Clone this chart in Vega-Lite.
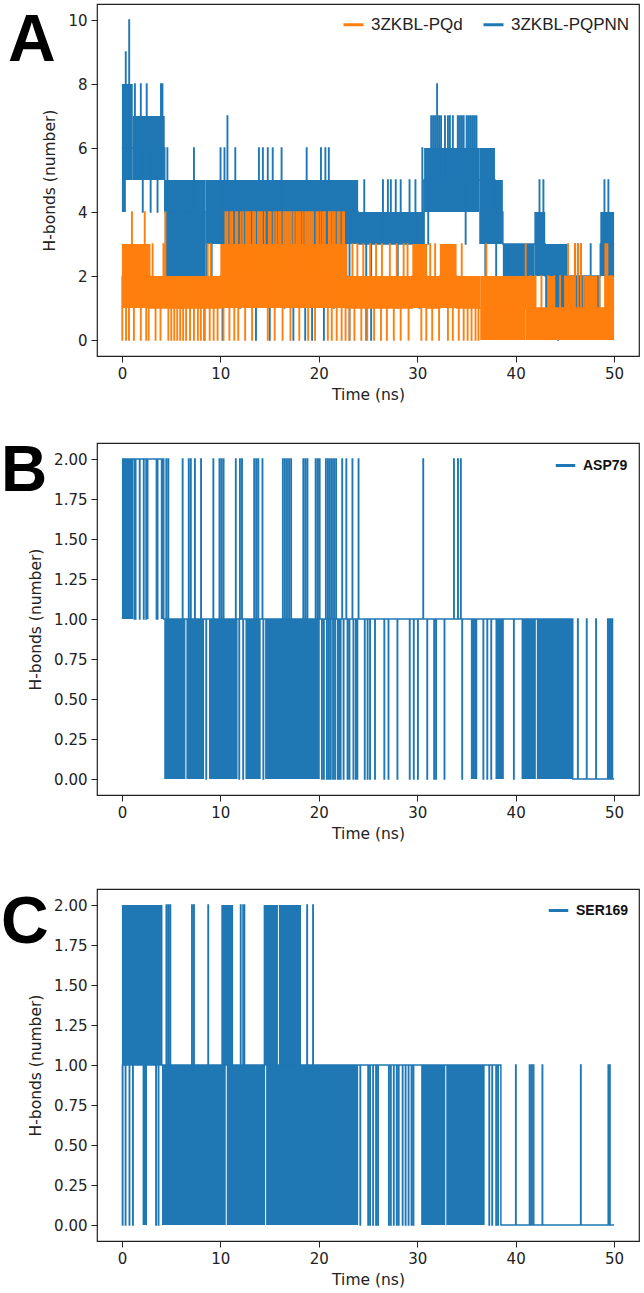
{
"$schema": "https://vega.github.io/schema/vega-lite/v6.json",
"padding": {"left": 0, "top": 3, "right": 0, "bottom": 0},
"background": "white",
"config": {
 "view": {"stroke": "#222", "strokeWidth": 1.2},
 "axis": {"grid": false, "domain": false, "tickColor": "#222", "tickWidth": 1, "tickSize": 6, "labelFont": "DejaVu Sans", "labelFontSize": 15, "labelColor": "#222", "labelPadding": 4, "titleFont": "DejaVu Sans", "titleFontSize": 15.5, "titleFontWeight": "normal", "titleColor": "#222", "titlePadding": 6},
 "axisY": {"titlePadding": 10},
 "legend": {"symbolType": "stroke"}
},
"datasets": {
 "aBlkB": [{"t":0,"t1":0.4,"v":4,"v2":5},{"t":0,"t1":1.1,"v":5,"v2":8},{"t":1.1,"t1":4.35,"v":5,"v2":7},{"t":4.35,"t1":8.5,"v":2,"v2":5},{"t":8.5,"t1":24,"v":3,"v2":5},{"t":24,"t1":30.7,"v":3,"v2":4},{"t":30.7,"t1":36.3,"v":4,"v2":6},{"t":36.3,"t1":37.9,"v":3,"v2":6},{"t":37.9,"t1":38.7,"v":3,"v2":5},{"t":38.7,"t1":41.9,"v":2,"v2":3},{"t":41.9,"t1":43,"v":2,"v2":4},{"t":43,"t1":45.3,"v":1,"v2":3},{"t":45.3,"t1":48.6,"v":1,"v2":2},{"t":48.6,"t1":50,"v":2,"v2":4}],
 "aLineB": [
{"s":"3ZKBL-PQPNN","t":0,"v":6},{"s":"3ZKBL-PQPNN","t":0.37,"v":9},{"s":"3ZKBL-PQPNN","t":0.41,"v":6},{"s":"3ZKBL-PQPNN","t":0.72,"v":10},{"s":"3ZKBL-PQPNN","t":0.76,"v":6},{"s":"3ZKBL-PQPNN","t":1.3,"v":8},{"s":"3ZKBL-PQPNN","t":1.34,"v":6},{"s":"3ZKBL-PQPNN","t":1.9,"v":8},{"s":"3ZKBL-PQPNN","t":1.94,"v":6},{"s":"3ZKBL-PQPNN","t":2.1,"v":4},{"s":"3ZKBL-PQPNN","t":2.14,"v":6},{"s":"3ZKBL-PQPNN","t":2.5,"v":8},{"s":"3ZKBL-PQPNN","t":2.54,"v":6},{"s":"3ZKBL-PQPNN","t":2.9,"v":4},{"s":"3ZKBL-PQPNN","t":2.94,"v":6},{"s":"3ZKBL-PQPNN","t":3.6,"v":4},{"s":"3ZKBL-PQPNN","t":3.64,"v":6},{"s":"3ZKBL-PQPNN","t":3.95,"v":8},{"s":"3ZKBL-PQPNN","t":3.99,"v":6},{"s":"3ZKBL-PQPNN","t":4.1,"v":8},{"s":"3ZKBL-PQPNN","t":4.14,"v":6},
{"s":"3ZKBL-PQPNN","t":4.35,"v":4},{"s":"3ZKBL-PQPNN","t":4.6,"v":6},{"s":"3ZKBL-PQPNN","t":4.64,"v":4},{"s":"3ZKBL-PQPNN","t":6.0,"v":1},{"s":"3ZKBL-PQPNN","t":6.04,"v":4},{"s":"3ZKBL-PQPNN","t":7.3,"v":6},{"s":"3ZKBL-PQPNN","t":7.34,"v":4},{"s":"3ZKBL-PQPNN","t":8.35,"v":0},{"s":"3ZKBL-PQPNN","t":8.39,"v":4},{"s":"3ZKBL-PQPNN","t":8.6,"v":2},{"s":"3ZKBL-PQPNN","t":8.64,"v":4},{"s":"3ZKBL-PQPNN","t":9.1,"v":2},{"s":"3ZKBL-PQPNN","t":9.14,"v":4},{"s":"3ZKBL-PQPNN","t":10.0,"v":6},{"s":"3ZKBL-PQPNN","t":10.04,"v":4},{"s":"3ZKBL-PQPNN","t":10.2,"v":0},{"s":"3ZKBL-PQPNN","t":10.24,"v":4},{"s":"3ZKBL-PQPNN","t":10.4,"v":6},{"s":"3ZKBL-PQPNN","t":10.44,"v":4},{"s":"3ZKBL-PQPNN","t":10.7,"v":7},{"s":"3ZKBL-PQPNN","t":10.74,"v":4},{"s":"3ZKBL-PQPNN","t":11.5,"v":6},{"s":"3ZKBL-PQPNN","t":11.54,"v":4},{"s":"3ZKBL-PQPNN","t":12.0,"v":1},{"s":"3ZKBL-PQPNN","t":12.04,"v":4},{"s":"3ZKBL-PQPNN","t":13.6,"v":0},{"s":"3ZKBL-PQPNN","t":13.64,"v":4},{"s":"3ZKBL-PQPNN","t":13.9,"v":6},{"s":"3ZKBL-PQPNN","t":13.94,"v":4},{"s":"3ZKBL-PQPNN","t":14.3,"v":6},{"s":"3ZKBL-PQPNN","t":14.34,"v":4},{"s":"3ZKBL-PQPNN","t":14.8,"v":6},{"s":"3ZKBL-PQPNN","t":14.84,"v":4},{"s":"3ZKBL-PQPNN","t":15.0,"v":0},{"s":"3ZKBL-PQPNN","t":15.04,"v":4},{"s":"3ZKBL-PQPNN","t":15.3,"v":6},{"s":"3ZKBL-PQPNN","t":15.34,"v":4},{"s":"3ZKBL-PQPNN","t":16.2,"v":6},{"s":"3ZKBL-PQPNN","t":16.24,"v":4},{"s":"3ZKBL-PQPNN","t":16.5,"v":1},{"s":"3ZKBL-PQPNN","t":16.54,"v":4},{"s":"3ZKBL-PQPNN","t":17.4,"v":0},{"s":"3ZKBL-PQPNN","t":17.44,"v":4},{"s":"3ZKBL-PQPNN","t":18.6,"v":0},{"s":"3ZKBL-PQPNN","t":18.64,"v":4},{"s":"3ZKBL-PQPNN","t":18.75,"v":6},{"s":"3ZKBL-PQPNN","t":18.79,"v":4},{"s":"3ZKBL-PQPNN","t":19.3,"v":0},{"s":"3ZKBL-PQPNN","t":19.34,"v":4},{"s":"3ZKBL-PQPNN","t":20.2,"v":6},{"s":"3ZKBL-PQPNN","t":20.24,"v":4},{"s":"3ZKBL-PQPNN","t":20.5,"v":0},{"s":"3ZKBL-PQPNN","t":20.54,"v":4},{"s":"3ZKBL-PQPNN","t":20.65,"v":6},{"s":"3ZKBL-PQPNN","t":20.69,"v":4},{"s":"3ZKBL-PQPNN","t":21.0,"v":6},{"s":"3ZKBL-PQPNN","t":21.04,"v":4},{"s":"3ZKBL-PQPNN","t":21.5,"v":1},{"s":"3ZKBL-PQPNN","t":21.54,"v":4},{"s":"3ZKBL-PQPNN","t":23.1,"v":0},{"s":"3ZKBL-PQPNN","t":23.14,"v":4},
{"s":"3ZKBL-PQPNN","t":24.0,"v":3},{"s":"3ZKBL-PQPNN","t":24.6,"v":5},{"s":"3ZKBL-PQPNN","t":24.64,"v":3},{"s":"3ZKBL-PQPNN","t":24.8,"v":0},{"s":"3ZKBL-PQPNN","t":24.84,"v":3},{"s":"3ZKBL-PQPNN","t":25.3,"v":0},{"s":"3ZKBL-PQPNN","t":25.34,"v":3},{"s":"3ZKBL-PQPNN","t":26.5,"v":5},{"s":"3ZKBL-PQPNN","t":26.54,"v":3},{"s":"3ZKBL-PQPNN","t":27.0,"v":5},{"s":"3ZKBL-PQPNN","t":27.04,"v":3},{"s":"3ZKBL-PQPNN","t":27.3,"v":5},{"s":"3ZKBL-PQPNN","t":27.34,"v":3},{"s":"3ZKBL-PQPNN","t":27.8,"v":5},{"s":"3ZKBL-PQPNN","t":27.84,"v":3},{"s":"3ZKBL-PQPNN","t":28.0,"v":1},{"s":"3ZKBL-PQPNN","t":28.04,"v":3},{"s":"3ZKBL-PQPNN","t":28.3,"v":5},{"s":"3ZKBL-PQPNN","t":28.34,"v":3},{"s":"3ZKBL-PQPNN","t":29.2,"v":5},{"s":"3ZKBL-PQPNN","t":29.24,"v":3},{"s":"3ZKBL-PQPNN","t":29.8,"v":5},{"s":"3ZKBL-PQPNN","t":29.84,"v":3},{"s":"3ZKBL-PQPNN","t":30.2,"v":1},{"s":"3ZKBL-PQPNN","t":30.24,"v":3},{"s":"3ZKBL-PQPNN","t":30.5,"v":6},{"s":"3ZKBL-PQPNN","t":30.54,"v":3},
{"s":"3ZKBL-PQPNN","t":30.7,"v":5},{"s":"3ZKBL-PQPNN","t":31.1,"v":3},{"s":"3ZKBL-PQPNN","t":31.14,"v":5},{"s":"3ZKBL-PQPNN","t":31.4,"v":7},{"s":"3ZKBL-PQPNN","t":31.44,"v":5},{"s":"3ZKBL-PQPNN","t":31.6,"v":7},{"s":"3ZKBL-PQPNN","t":31.64,"v":5},{"s":"3ZKBL-PQPNN","t":31.8,"v":7},{"s":"3ZKBL-PQPNN","t":31.84,"v":5},{"s":"3ZKBL-PQPNN","t":32.0,"v":8},{"s":"3ZKBL-PQPNN","t":32.04,"v":5},{"s":"3ZKBL-PQPNN","t":32.2,"v":7},{"s":"3ZKBL-PQPNN","t":32.24,"v":5},{"s":"3ZKBL-PQPNN","t":32.4,"v":7},{"s":"3ZKBL-PQPNN","t":32.44,"v":5},{"s":"3ZKBL-PQPNN","t":32.8,"v":7},{"s":"3ZKBL-PQPNN","t":32.84,"v":5},{"s":"3ZKBL-PQPNN","t":33.1,"v":7},{"s":"3ZKBL-PQPNN","t":33.14,"v":5},{"s":"3ZKBL-PQPNN","t":33.3,"v":7},{"s":"3ZKBL-PQPNN","t":33.34,"v":5},{"s":"3ZKBL-PQPNN","t":33.6,"v":7},{"s":"3ZKBL-PQPNN","t":33.64,"v":5},{"s":"3ZKBL-PQPNN","t":34.1,"v":7},{"s":"3ZKBL-PQPNN","t":34.14,"v":5},{"s":"3ZKBL-PQPNN","t":34.3,"v":7},{"s":"3ZKBL-PQPNN","t":34.34,"v":5},{"s":"3ZKBL-PQPNN","t":34.5,"v":7},{"s":"3ZKBL-PQPNN","t":34.54,"v":5},{"s":"3ZKBL-PQPNN","t":34.7,"v":7},{"s":"3ZKBL-PQPNN","t":34.74,"v":5},{"s":"3ZKBL-PQPNN","t":34.9,"v":3},{"s":"3ZKBL-PQPNN","t":34.94,"v":5},{"s":"3ZKBL-PQPNN","t":35.0,"v":7},{"s":"3ZKBL-PQPNN","t":35.04,"v":5},{"s":"3ZKBL-PQPNN","t":35.2,"v":7},{"s":"3ZKBL-PQPNN","t":35.24,"v":5},{"s":"3ZKBL-PQPNN","t":35.4,"v":7},{"s":"3ZKBL-PQPNN","t":35.44,"v":5},{"s":"3ZKBL-PQPNN","t":35.6,"v":7},{"s":"3ZKBL-PQPNN","t":35.64,"v":5},{"s":"3ZKBL-PQPNN","t":35.8,"v":7},{"s":"3ZKBL-PQPNN","t":35.84,"v":5},{"s":"3ZKBL-PQPNN","t":36.0,"v":7},{"s":"3ZKBL-PQPNN","t":36.04,"v":5},{"s":"3ZKBL-PQPNN","t":36.9,"v":1},{"s":"3ZKBL-PQPNN","t":36.94,"v":5},
{"s":"3ZKBL-PQPNN","t":37.9,"v":4},{"s":"3ZKBL-PQPNN","t":38.0,"v":1},{"s":"3ZKBL-PQPNN","t":38.04,"v":4},{"s":"3ZKBL-PQPNN","t":38.7,"v":3},{"s":"3ZKBL-PQPNN","t":39.2,"v":1},{"s":"3ZKBL-PQPNN","t":39.24,"v":3},{"s":"3ZKBL-PQPNN","t":40.4,"v":1},{"s":"3ZKBL-PQPNN","t":40.44,"v":3},{"s":"3ZKBL-PQPNN","t":41.0,"v":1},{"s":"3ZKBL-PQPNN","t":41.04,"v":3},{"s":"3ZKBL-PQPNN","t":42.4,"v":5},{"s":"3ZKBL-PQPNN","t":42.44,"v":3},{"s":"3ZKBL-PQPNN","t":42.8,"v":5},{"s":"3ZKBL-PQPNN","t":42.84,"v":3},{"s":"3ZKBL-PQPNN","t":43.0,"v":2},{"s":"3ZKBL-PQPNN","t":44.3,"v":0},{"s":"3ZKBL-PQPNN","t":44.34,"v":2},{"s":"3ZKBL-PQPNN","t":46.0,"v":3},{"s":"3ZKBL-PQPNN","t":46.04,"v":2},{"s":"3ZKBL-PQPNN","t":46.3,"v":3},{"s":"3ZKBL-PQPNN","t":46.34,"v":2},{"s":"3ZKBL-PQPNN","t":46.6,"v":3},{"s":"3ZKBL-PQPNN","t":46.64,"v":2},{"s":"3ZKBL-PQPNN","t":47.6,"v":3},{"s":"3ZKBL-PQPNN","t":47.64,"v":2},{"s":"3ZKBL-PQPNN","t":48.6,"v":3},{"s":"3ZKBL-PQPNN","t":49.0,"v":5},{"s":"3ZKBL-PQPNN","t":49.04,"v":3},{"s":"3ZKBL-PQPNN","t":49.4,"v":5},{"s":"3ZKBL-PQPNN","t":49.44,"v":3},{"s":"3ZKBL-PQPNN","t":50.0,"v":3}],
 "aBlkO": [{"t":0,"t1":2.9,"v":1,"v2":3},{"t":2.9,"t1":10,"v":1,"v2":2},{"t":10,"t1":22.9,"v":1,"v2":3},{"t":22.9,"t1":29.5,"v":1,"v2":2},{"t":29.5,"t1":31,"v":1,"v2":3},{"t":31,"t1":32.3,"v":1,"v2":2},{"t":32.3,"t1":34,"v":1,"v2":3},{"t":34,"t1":36.4,"v":1,"v2":2},{"t":36.4,"t1":41,"v":0,"v2":2},{"t":41,"t1":50,"v":0,"v2":1},{"t":41,"t1":42,"v":1,"v2":2},{"t":43.2,"t1":44,"v":1,"v2":2},{"t":45,"t1":46,"v":1,"v2":2},{"t":47,"t1":48.3,"v":1,"v2":2},{"t":49,"t1":50,"v":1,"v2":2}],
 "aLineO": [
{"s":"3ZKBL-PQd","t":0,"v":2},{"s":"3ZKBL-PQd","t":0.02,"v":0},{"s":"3ZKBL-PQd","t":0.06,"v":2},{"s":"3ZKBL-PQd","t":0.4,"v":0},{"s":"3ZKBL-PQd","t":0.44,"v":2},{"s":"3ZKBL-PQd","t":0.7,"v":0},{"s":"3ZKBL-PQd","t":0.74,"v":2},{"s":"3ZKBL-PQd","t":1.0,"v":4},{"s":"3ZKBL-PQd","t":1.04,"v":2},{"s":"3ZKBL-PQd","t":1.2,"v":0},{"s":"3ZKBL-PQd","t":1.24,"v":2},{"s":"3ZKBL-PQd","t":1.9,"v":0},{"s":"3ZKBL-PQd","t":1.94,"v":2},{"s":"3ZKBL-PQd","t":2.3,"v":4},{"s":"3ZKBL-PQd","t":2.34,"v":2},{"s":"3ZKBL-PQd","t":2.45,"v":0},{"s":"3ZKBL-PQd","t":2.49,"v":2},{"s":"3ZKBL-PQd","t":2.7,"v":0},{"s":"3ZKBL-PQd","t":2.74,"v":2},
{"s":"3ZKBL-PQd","t":2.9,"v":1},{"s":"3ZKBL-PQd","t":3.1,"v":3},{"s":"3ZKBL-PQd","t":3.14,"v":1},{"s":"3ZKBL-PQd","t":3.4,"v":0},{"s":"3ZKBL-PQd","t":3.44,"v":1},{"s":"3ZKBL-PQd","t":3.9,"v":0},{"s":"3ZKBL-PQd","t":3.94,"v":1},{"s":"3ZKBL-PQd","t":4.2,"v":3},{"s":"3ZKBL-PQd","t":4.24,"v":1},{"s":"3ZKBL-PQd","t":4.4,"v":4},{"s":"3ZKBL-PQd","t":4.44,"v":1},{"s":"3ZKBL-PQd","t":4.7,"v":0},{"s":"3ZKBL-PQd","t":4.74,"v":1},{"s":"3ZKBL-PQd","t":5.0,"v":0},{"s":"3ZKBL-PQd","t":5.04,"v":1},{"s":"3ZKBL-PQd","t":5.3,"v":0},{"s":"3ZKBL-PQd","t":5.34,"v":1},{"s":"3ZKBL-PQd","t":5.6,"v":0},{"s":"3ZKBL-PQd","t":5.64,"v":1},{"s":"3ZKBL-PQd","t":5.9,"v":0},{"s":"3ZKBL-PQd","t":5.94,"v":1},{"s":"3ZKBL-PQd","t":6.2,"v":0},{"s":"3ZKBL-PQd","t":6.24,"v":1},{"s":"3ZKBL-PQd","t":6.5,"v":0},{"s":"3ZKBL-PQd","t":6.54,"v":1},{"s":"3ZKBL-PQd","t":6.9,"v":0},{"s":"3ZKBL-PQd","t":6.94,"v":1},{"s":"3ZKBL-PQd","t":7.3,"v":0},{"s":"3ZKBL-PQd","t":7.34,"v":1},{"s":"3ZKBL-PQd","t":7.7,"v":0},{"s":"3ZKBL-PQd","t":7.74,"v":1},{"s":"3ZKBL-PQd","t":8.0,"v":0},{"s":"3ZKBL-PQd","t":8.04,"v":1},{"s":"3ZKBL-PQd","t":8.4,"v":0},{"s":"3ZKBL-PQd","t":8.44,"v":1},{"s":"3ZKBL-PQd","t":8.7,"v":3},{"s":"3ZKBL-PQd","t":8.74,"v":1},{"s":"3ZKBL-PQd","t":8.9,"v":0},{"s":"3ZKBL-PQd","t":8.94,"v":1},{"s":"3ZKBL-PQd","t":9.0,"v":3},{"s":"3ZKBL-PQd","t":9.04,"v":1},{"s":"3ZKBL-PQd","t":9.3,"v":0},{"s":"3ZKBL-PQd","t":9.34,"v":1},{"s":"3ZKBL-PQd","t":9.7,"v":0},{"s":"3ZKBL-PQd","t":9.74,"v":1},
{"s":"3ZKBL-PQd","t":10.0,"v":2},{"s":"3ZKBL-PQd","t":10.3,"v":0},{"s":"3ZKBL-PQd","t":10.34,"v":2},{"s":"3ZKBL-PQd","t":10.5,"v":4},{"s":"3ZKBL-PQd","t":10.54,"v":2},{"s":"3ZKBL-PQd","t":10.9,"v":0},{"s":"3ZKBL-PQd","t":10.94,"v":2},{"s":"3ZKBL-PQd","t":11.0,"v":4},{"s":"3ZKBL-PQd","t":11.04,"v":2},{"s":"3ZKBL-PQd","t":11.4,"v":0},{"s":"3ZKBL-PQd","t":11.44,"v":2},{"s":"3ZKBL-PQd","t":11.7,"v":4},{"s":"3ZKBL-PQd","t":11.74,"v":2},{"s":"3ZKBL-PQd","t":11.8,"v":0},{"s":"3ZKBL-PQd","t":11.84,"v":2},{"s":"3ZKBL-PQd","t":12.3,"v":4},{"s":"3ZKBL-PQd","t":12.34,"v":2},{"s":"3ZKBL-PQd","t":12.5,"v":0},{"s":"3ZKBL-PQd","t":12.54,"v":2},{"s":"3ZKBL-PQd","t":12.8,"v":4},{"s":"3ZKBL-PQd","t":12.84,"v":2},{"s":"3ZKBL-PQd","t":13.2,"v":0},{"s":"3ZKBL-PQd","t":13.24,"v":2},{"s":"3ZKBL-PQd","t":13.3,"v":4},{"s":"3ZKBL-PQd","t":13.34,"v":2},{"s":"3ZKBL-PQd","t":13.8,"v":4},{"s":"3ZKBL-PQd","t":13.84,"v":2},{"s":"3ZKBL-PQd","t":14.2,"v":4},{"s":"3ZKBL-PQd","t":14.24,"v":2},{"s":"3ZKBL-PQd","t":14.8,"v":0},{"s":"3ZKBL-PQd","t":14.84,"v":2},{"s":"3ZKBL-PQd","t":14.9,"v":4},{"s":"3ZKBL-PQd","t":14.94,"v":2},{"s":"3ZKBL-PQd","t":15.4,"v":4},{"s":"3ZKBL-PQd","t":15.44,"v":2},{"s":"3ZKBL-PQd","t":15.5,"v":0},{"s":"3ZKBL-PQd","t":15.54,"v":2},{"s":"3ZKBL-PQd","t":15.9,"v":4},{"s":"3ZKBL-PQd","t":15.94,"v":2},{"s":"3ZKBL-PQd","t":16.3,"v":0},{"s":"3ZKBL-PQd","t":16.34,"v":2},{"s":"3ZKBL-PQd","t":16.4,"v":4},{"s":"3ZKBL-PQd","t":16.44,"v":2},{"s":"3ZKBL-PQd","t":16.8,"v":4},{"s":"3ZKBL-PQd","t":16.84,"v":2},{"s":"3ZKBL-PQd","t":17.1,"v":0},{"s":"3ZKBL-PQd","t":17.14,"v":2},{"s":"3ZKBL-PQd","t":17.2,"v":4},{"s":"3ZKBL-PQd","t":17.24,"v":2},{"s":"3ZKBL-PQd","t":17.7,"v":4},{"s":"3ZKBL-PQd","t":17.74,"v":2},{"s":"3ZKBL-PQd","t":18.0,"v":0},{"s":"3ZKBL-PQd","t":18.04,"v":2},{"s":"3ZKBL-PQd","t":18.1,"v":4},{"s":"3ZKBL-PQd","t":18.14,"v":2},{"s":"3ZKBL-PQd","t":18.6,"v":4},{"s":"3ZKBL-PQd","t":18.64,"v":2},{"s":"3ZKBL-PQd","t":18.9,"v":0},{"s":"3ZKBL-PQd","t":18.94,"v":2},{"s":"3ZKBL-PQd","t":19.0,"v":4},{"s":"3ZKBL-PQd","t":19.04,"v":2},{"s":"3ZKBL-PQd","t":19.4,"v":4},{"s":"3ZKBL-PQd","t":19.44,"v":2},{"s":"3ZKBL-PQd","t":19.6,"v":0},{"s":"3ZKBL-PQd","t":19.64,"v":2},{"s":"3ZKBL-PQd","t":19.9,"v":4},{"s":"3ZKBL-PQd","t":19.94,"v":2},{"s":"3ZKBL-PQd","t":20.4,"v":4},{"s":"3ZKBL-PQd","t":20.44,"v":2},{"s":"3ZKBL-PQd","t":20.9,"v":0},{"s":"3ZKBL-PQd","t":20.94,"v":2},{"s":"3ZKBL-PQd","t":21.0,"v":4},{"s":"3ZKBL-PQd","t":21.04,"v":2},{"s":"3ZKBL-PQd","t":21.3,"v":0},{"s":"3ZKBL-PQd","t":21.34,"v":2},{"s":"3ZKBL-PQd","t":21.4,"v":4},{"s":"3ZKBL-PQd","t":21.44,"v":2},{"s":"3ZKBL-PQd","t":21.8,"v":0},{"s":"3ZKBL-PQd","t":21.84,"v":2},{"s":"3ZKBL-PQd","t":21.9,"v":4},{"s":"3ZKBL-PQd","t":21.94,"v":2},{"s":"3ZKBL-PQd","t":22.3,"v":0},{"s":"3ZKBL-PQd","t":22.34,"v":2},{"s":"3ZKBL-PQd","t":22.4,"v":4},{"s":"3ZKBL-PQd","t":22.44,"v":2},{"s":"3ZKBL-PQd","t":22.7,"v":0},{"s":"3ZKBL-PQd","t":22.74,"v":2},
{"s":"3ZKBL-PQd","t":10.7,"v":4},{"s":"3ZKBL-PQd","t":10.74,"v":2},{"s":"3ZKBL-PQd","t":11.2,"v":4},{"s":"3ZKBL-PQd","t":11.24,"v":2},{"s":"3ZKBL-PQd","t":11.55,"v":4},{"s":"3ZKBL-PQd","t":11.59,"v":2},{"s":"3ZKBL-PQd","t":12.05,"v":4},{"s":"3ZKBL-PQd","t":12.09,"v":2},{"s":"3ZKBL-PQd","t":12.6,"v":4},{"s":"3ZKBL-PQd","t":12.64,"v":2},{"s":"3ZKBL-PQd","t":13.0,"v":4},{"s":"3ZKBL-PQd","t":13.04,"v":2},{"s":"3ZKBL-PQd","t":13.5,"v":4},{"s":"3ZKBL-PQd","t":13.54,"v":2},{"s":"3ZKBL-PQd","t":14.0,"v":4},{"s":"3ZKBL-PQd","t":14.04,"v":2},{"s":"3ZKBL-PQd","t":14.5,"v":4},{"s":"3ZKBL-PQd","t":14.54,"v":2},{"s":"3ZKBL-PQd","t":15.1,"v":4},{"s":"3ZKBL-PQd","t":15.14,"v":2},{"s":"3ZKBL-PQd","t":15.65,"v":4},{"s":"3ZKBL-PQd","t":15.69,"v":2},{"s":"3ZKBL-PQd","t":16.1,"v":4},{"s":"3ZKBL-PQd","t":16.14,"v":2},{"s":"3ZKBL-PQd","t":16.6,"v":4},{"s":"3ZKBL-PQd","t":16.64,"v":2},{"s":"3ZKBL-PQd","t":17.0,"v":4},{"s":"3ZKBL-PQd","t":17.04,"v":2},{"s":"3ZKBL-PQd","t":17.45,"v":4},{"s":"3ZKBL-PQd","t":17.49,"v":2},{"s":"3ZKBL-PQd","t":17.9,"v":4},{"s":"3ZKBL-PQd","t":17.94,"v":2},{"s":"3ZKBL-PQd","t":18.35,"v":4},{"s":"3ZKBL-PQd","t":18.39,"v":2},{"s":"3ZKBL-PQd","t":18.8,"v":4},{"s":"3ZKBL-PQd","t":18.84,"v":2},{"s":"3ZKBL-PQd","t":19.2,"v":4},{"s":"3ZKBL-PQd","t":19.24,"v":2},{"s":"3ZKBL-PQd","t":19.75,"v":4},{"s":"3ZKBL-PQd","t":19.79,"v":2},{"s":"3ZKBL-PQd","t":20.15,"v":4},{"s":"3ZKBL-PQd","t":20.19,"v":2},{"s":"3ZKBL-PQd","t":20.6,"v":4},{"s":"3ZKBL-PQd","t":20.64,"v":2},{"s":"3ZKBL-PQd","t":21.17,"v":4},{"s":"3ZKBL-PQd","t":21.21,"v":2},{"s":"3ZKBL-PQd","t":21.6,"v":4},{"s":"3ZKBL-PQd","t":21.64,"v":2},{"s":"3ZKBL-PQd","t":22.1,"v":4},{"s":"3ZKBL-PQd","t":22.14,"v":2},{"s":"3ZKBL-PQd","t":22.55,"v":4},{"s":"3ZKBL-PQd","t":22.59,"v":2},
{"s":"3ZKBL-PQd","t":22.9,"v":1},{"s":"3ZKBL-PQd","t":23.1,"v":0},{"s":"3ZKBL-PQd","t":23.14,"v":1},{"s":"3ZKBL-PQd","t":23.4,"v":3},{"s":"3ZKBL-PQd","t":23.44,"v":1},{"s":"3ZKBL-PQd","t":23.6,"v":0},{"s":"3ZKBL-PQd","t":23.64,"v":1},{"s":"3ZKBL-PQd","t":23.9,"v":3},{"s":"3ZKBL-PQd","t":23.94,"v":1},{"s":"3ZKBL-PQd","t":24.3,"v":0},{"s":"3ZKBL-PQd","t":24.34,"v":1},{"s":"3ZKBL-PQd","t":24.5,"v":3},{"s":"3ZKBL-PQd","t":24.54,"v":1},{"s":"3ZKBL-PQd","t":24.9,"v":0},{"s":"3ZKBL-PQd","t":24.94,"v":1},{"s":"3ZKBL-PQd","t":25.2,"v":3},{"s":"3ZKBL-PQd","t":25.24,"v":1},{"s":"3ZKBL-PQd","t":25.6,"v":0},{"s":"3ZKBL-PQd","t":25.64,"v":1},{"s":"3ZKBL-PQd","t":25.8,"v":3},{"s":"3ZKBL-PQd","t":25.84,"v":1},{"s":"3ZKBL-PQd","t":26.3,"v":0},{"s":"3ZKBL-PQd","t":26.34,"v":1},{"s":"3ZKBL-PQd","t":26.4,"v":3},{"s":"3ZKBL-PQd","t":26.44,"v":1},{"s":"3ZKBL-PQd","t":26.9,"v":0},{"s":"3ZKBL-PQd","t":26.94,"v":1},{"s":"3ZKBL-PQd","t":27.2,"v":3},{"s":"3ZKBL-PQd","t":27.24,"v":1},{"s":"3ZKBL-PQd","t":27.6,"v":0},{"s":"3ZKBL-PQd","t":27.64,"v":1},{"s":"3ZKBL-PQd","t":27.9,"v":3},{"s":"3ZKBL-PQd","t":27.94,"v":1},{"s":"3ZKBL-PQd","t":28.3,"v":0},{"s":"3ZKBL-PQd","t":28.34,"v":1},{"s":"3ZKBL-PQd","t":28.6,"v":3},{"s":"3ZKBL-PQd","t":28.64,"v":1},{"s":"3ZKBL-PQd","t":29.0,"v":3},{"s":"3ZKBL-PQd","t":29.04,"v":1},{"s":"3ZKBL-PQd","t":29.1,"v":0},{"s":"3ZKBL-PQd","t":29.14,"v":1},
{"s":"3ZKBL-PQd","t":29.5,"v":2},{"s":"3ZKBL-PQd","t":30.4,"v":0},{"s":"3ZKBL-PQd","t":30.44,"v":2},{"s":"3ZKBL-PQd","t":30.9,"v":0},{"s":"3ZKBL-PQd","t":30.94,"v":2},{"s":"3ZKBL-PQd","t":31.0,"v":1},{"s":"3ZKBL-PQd","t":31.3,"v":3},{"s":"3ZKBL-PQd","t":31.34,"v":1},{"s":"3ZKBL-PQd","t":31.5,"v":0},{"s":"3ZKBL-PQd","t":31.54,"v":1},{"s":"3ZKBL-PQd","t":31.8,"v":3},{"s":"3ZKBL-PQd","t":31.84,"v":1},{"s":"3ZKBL-PQd","t":32.2,"v":0},{"s":"3ZKBL-PQd","t":32.24,"v":1},{"s":"3ZKBL-PQd","t":32.3,"v":2},{"s":"3ZKBL-PQd","t":33.1,"v":0},{"s":"3ZKBL-PQd","t":33.14,"v":2},{"s":"3ZKBL-PQd","t":33.6,"v":0},{"s":"3ZKBL-PQd","t":33.64,"v":2},
{"s":"3ZKBL-PQd","t":34.0,"v":1},{"s":"3ZKBL-PQd","t":34.2,"v":0},{"s":"3ZKBL-PQd","t":34.24,"v":1},{"s":"3ZKBL-PQd","t":34.5,"v":3},{"s":"3ZKBL-PQd","t":34.54,"v":1},{"s":"3ZKBL-PQd","t":34.7,"v":0},{"s":"3ZKBL-PQd","t":34.74,"v":1},{"s":"3ZKBL-PQd","t":35.1,"v":0},{"s":"3ZKBL-PQd","t":35.14,"v":1},{"s":"3ZKBL-PQd","t":35.5,"v":0},{"s":"3ZKBL-PQd","t":35.54,"v":1},{"s":"3ZKBL-PQd","t":35.9,"v":0},{"s":"3ZKBL-PQd","t":35.94,"v":1},{"s":"3ZKBL-PQd","t":36.2,"v":0},{"s":"3ZKBL-PQd","t":36.24,"v":1},{"s":"3ZKBL-PQd","t":37.0,"v":3},{"s":"3ZKBL-PQd","t":37.04,"v":1},
{"s":"3ZKBL-PQd","t":41.0,"v":3},{"s":"3ZKBL-PQd","t":41.04,"v":1},{"s":"3ZKBL-PQd","t":41.5,"v":2},{"s":"3ZKBL-PQd","t":41.54,"v":1},{"s":"3ZKBL-PQd","t":42.0,"v":2},{"s":"3ZKBL-PQd","t":42.04,"v":1},{"s":"3ZKBL-PQd","t":42.6,"v":2},{"s":"3ZKBL-PQd","t":42.64,"v":1},{"s":"3ZKBL-PQd","t":43.3,"v":2},{"s":"3ZKBL-PQd","t":43.34,"v":1},{"s":"3ZKBL-PQd","t":43.9,"v":2},{"s":"3ZKBL-PQd","t":43.94,"v":1},{"s":"3ZKBL-PQd","t":44.5,"v":2},{"s":"3ZKBL-PQd","t":44.54,"v":1},{"s":"3ZKBL-PQd","t":45.0,"v":2},{"s":"3ZKBL-PQd","t":45.04,"v":1},{"s":"3ZKBL-PQd","t":45.3,"v":3},{"s":"3ZKBL-PQd","t":45.34,"v":1},{"s":"3ZKBL-PQd","t":45.7,"v":2},{"s":"3ZKBL-PQd","t":45.74,"v":1},{"s":"3ZKBL-PQd","t":46.0,"v":3},{"s":"3ZKBL-PQd","t":46.04,"v":1},{"s":"3ZKBL-PQd","t":46.3,"v":3},{"s":"3ZKBL-PQd","t":46.34,"v":1},{"s":"3ZKBL-PQd","t":46.6,"v":3},{"s":"3ZKBL-PQd","t":46.64,"v":1},{"s":"3ZKBL-PQd","t":46.9,"v":2},{"s":"3ZKBL-PQd","t":46.94,"v":1},{"s":"3ZKBL-PQd","t":47.6,"v":2},{"s":"3ZKBL-PQd","t":47.64,"v":1},{"s":"3ZKBL-PQd","t":48.1,"v":2},{"s":"3ZKBL-PQd","t":48.14,"v":1},{"s":"3ZKBL-PQd","t":48.5,"v":2},{"s":"3ZKBL-PQd","t":48.54,"v":1},{"s":"3ZKBL-PQd","t":49.1,"v":3},{"s":"3ZKBL-PQd","t":49.14,"v":1},{"s":"3ZKBL-PQd","t":49.3,"v":3},{"s":"3ZKBL-PQd","t":49.34,"v":1},{"s":"3ZKBL-PQd","t":49.6,"v":2},{"s":"3ZKBL-PQd","t":49.64,"v":1},{"s":"3ZKBL-PQd","t":49.8,"v":2},{"s":"3ZKBL-PQd","t":49.84,"v":1},{"s":"3ZKBL-PQd","t":50.0,"v":1}],
 "bBlk": [{"t":0,"t1":1.15,"v":1,"v2":2},{"t":2.5,"t1":2.7,"v":1,"v2":2},{"t":3.95,"t1":4.25,"v":1,"v2":2},{"t":4.3,"t1":6.45,"v":0,"v2":1},{"t":6.55,"t1":8.35,"v":0,"v2":1},{"t":8.85,"t1":11.75,"v":0,"v2":1},{"t":12.55,"t1":14.1,"v":0,"v2":1},{"t":14.55,"t1":20.1,"v":0,"v2":1},{"t":35.45,"t1":36.1,"v":0,"v2":1},{"t":37.95,"t1":38.8,"v":0,"v2":1},{"t":40.6,"t1":42.05,"v":0,"v2":1},{"t":42.15,"t1":45.8,"v":0,"v2":1}],
 "bLine": [
{"s":"ASP79","t":0,"v":2},{"s":"ASP79","t":1.25,"v":1},{"s":"ASP79","t":1.29,"v":2},{"s":"ASP79","t":1.37,"v":1},{"s":"ASP79","t":1.41,"v":2},{"s":"ASP79","t":1.79,"v":1},{"s":"ASP79","t":1.83,"v":2},{"s":"ASP79","t":2.2,"v":1},{"s":"ASP79","t":2.24,"v":2},{"s":"ASP79","t":2.45,"v":1},{"s":"ASP79","t":2.49,"v":2},{"s":"ASP79","t":3.5,"v":1},{"s":"ASP79","t":3.54,"v":2},{"s":"ASP79","t":3.6,"v":1},{"s":"ASP79","t":3.64,"v":2},
{"s":"ASP79","t":4.25,"v":1},{"s":"ASP79","t":4.49,"v":2},{"s":"ASP79","t":4.53,"v":1},{"s":"ASP79","t":4.7,"v":2},{"s":"ASP79","t":4.74,"v":1},{"s":"ASP79","t":6.15,"v":2},{"s":"ASP79","t":6.19,"v":1},{"s":"ASP79","t":6.77,"v":2},{"s":"ASP79","t":6.81,"v":1},{"s":"ASP79","t":6.98,"v":2},{"s":"ASP79","t":7.02,"v":1},{"s":"ASP79","t":7.4,"v":2},{"s":"ASP79","t":7.44,"v":1},{"s":"ASP79","t":8.02,"v":2},{"s":"ASP79","t":8.06,"v":1},{"s":"ASP79","t":8.55,"v":0},{"s":"ASP79","t":8.59,"v":1},{"s":"ASP79","t":9.27,"v":2},{"s":"ASP79","t":9.31,"v":1},{"s":"ASP79","t":9.89,"v":2},{"s":"ASP79","t":9.93,"v":1},{"s":"ASP79","t":10.1,"v":2},{"s":"ASP79","t":10.14,"v":1},{"s":"ASP79","t":10.31,"v":2},{"s":"ASP79","t":10.35,"v":1},{"s":"ASP79","t":11.55,"v":2},{"s":"ASP79","t":11.59,"v":1},{"s":"ASP79","t":11.9,"v":0},{"s":"ASP79","t":11.94,"v":1},{"s":"ASP79","t":11.97,"v":2},{"s":"ASP79","t":12.01,"v":1},{"s":"ASP79","t":12.18,"v":2},{"s":"ASP79","t":12.22,"v":1},{"s":"ASP79","t":12.3,"v":0},{"s":"ASP79","t":12.34,"v":1},{"s":"ASP79","t":13.42,"v":2},{"s":"ASP79","t":13.46,"v":1},{"s":"ASP79","t":13.63,"v":2},{"s":"ASP79","t":13.67,"v":1},{"s":"ASP79","t":13.84,"v":2},{"s":"ASP79","t":13.88,"v":1},{"s":"ASP79","t":14.26,"v":2},{"s":"ASP79","t":14.3,"v":1},{"s":"ASP79","t":14.35,"v":0},{"s":"ASP79","t":14.39,"v":1},{"s":"ASP79","t":16.33,"v":2},{"s":"ASP79","t":16.37,"v":1},{"s":"ASP79","t":16.54,"v":2},{"s":"ASP79","t":16.58,"v":1},{"s":"ASP79","t":16.75,"v":2},{"s":"ASP79","t":16.79,"v":1},{"s":"ASP79","t":16.96,"v":2},{"s":"ASP79","t":17.0,"v":1},{"s":"ASP79","t":17.17,"v":2},{"s":"ASP79","t":17.21,"v":1},{"s":"ASP79","t":18.41,"v":2},{"s":"ASP79","t":18.45,"v":1},{"s":"ASP79","t":18.62,"v":2},{"s":"ASP79","t":18.66,"v":1},{"s":"ASP79","t":18.83,"v":2},{"s":"ASP79","t":18.87,"v":1},{"s":"ASP79","t":19.66,"v":2},{"s":"ASP79","t":19.7,"v":1},{"s":"ASP79","t":19.87,"v":2},{"s":"ASP79","t":19.91,"v":1},{"s":"ASP79","t":20.07,"v":2},{"s":"ASP79","t":20.11,"v":1},{"s":"ASP79","t":20.3,"v":0},{"s":"ASP79","t":20.34,"v":1},{"s":"ASP79","t":20.5,"v":0},{"s":"ASP79","t":20.54,"v":1},{"s":"ASP79","t":20.7,"v":2},{"s":"ASP79","t":20.74,"v":1},{"s":"ASP79","t":20.8,"v":0},{"s":"ASP79","t":20.84,"v":1},{"s":"ASP79","t":20.91,"v":2},{"s":"ASP79","t":20.95,"v":1},{"s":"ASP79","t":21.0,"v":0},{"s":"ASP79","t":21.04,"v":1},{"s":"ASP79","t":21.11,"v":2},{"s":"ASP79","t":21.15,"v":1},{"s":"ASP79","t":21.2,"v":0},{"s":"ASP79","t":21.24,"v":1},{"s":"ASP79","t":21.32,"v":2},{"s":"ASP79","t":21.36,"v":1},{"s":"ASP79","t":21.43,"v":0},{"s":"ASP79","t":21.47,"v":1},{"s":"ASP79","t":21.53,"v":2},{"s":"ASP79","t":21.57,"v":1},{"s":"ASP79","t":21.63,"v":0},{"s":"ASP79","t":21.67,"v":1},{"s":"ASP79","t":21.74,"v":2},{"s":"ASP79","t":21.78,"v":1},{"s":"ASP79","t":21.9,"v":0},{"s":"ASP79","t":21.94,"v":1},{"s":"ASP79","t":22.05,"v":0},{"s":"ASP79","t":22.09,"v":1},{"s":"ASP79","t":22.2,"v":0},{"s":"ASP79","t":22.24,"v":1},{"s":"ASP79","t":22.36,"v":2},{"s":"ASP79","t":22.4,"v":1},{"s":"ASP79","t":22.5,"v":0},{"s":"ASP79","t":22.54,"v":1},{"s":"ASP79","t":22.78,"v":2},{"s":"ASP79","t":22.82,"v":1},{"s":"ASP79","t":22.9,"v":0},{"s":"ASP79","t":22.94,"v":1},{"s":"ASP79","t":23.1,"v":0},{"s":"ASP79","t":23.14,"v":1},{"s":"ASP79","t":23.4,"v":2},{"s":"ASP79","t":23.44,"v":1},{"s":"ASP79","t":23.5,"v":0},{"s":"ASP79","t":23.54,"v":1},{"s":"ASP79","t":23.75,"v":0},{"s":"ASP79","t":23.79,"v":1},{"s":"ASP79","t":23.9,"v":0},{"s":"ASP79","t":23.94,"v":1},{"s":"ASP79","t":24.02,"v":2},{"s":"ASP79","t":24.06,"v":1},{"s":"ASP79","t":24.65,"v":0},{"s":"ASP79","t":24.69,"v":1},{"s":"ASP79","t":24.94,"v":0},{"s":"ASP79","t":24.98,"v":1},{"s":"ASP79","t":25.19,"v":0},{"s":"ASP79","t":25.23,"v":1},{"s":"ASP79","t":25.69,"v":0},{"s":"ASP79","t":25.73,"v":1},{"s":"ASP79","t":26.64,"v":0},{"s":"ASP79","t":26.68,"v":1},{"s":"ASP79","t":27.06,"v":0},{"s":"ASP79","t":27.1,"v":1},{"s":"ASP79","t":27.97,"v":0},{"s":"ASP79","t":28.01,"v":1},{"s":"ASP79","t":29.22,"v":0},{"s":"ASP79","t":29.26,"v":1},{"s":"ASP79","t":29.63,"v":0},{"s":"ASP79","t":29.67,"v":1},{"s":"ASP79","t":30.05,"v":0},{"s":"ASP79","t":30.09,"v":1},{"s":"ASP79","t":30.59,"v":2},{"s":"ASP79","t":30.63,"v":1},{"s":"ASP79","t":31.0,"v":0},{"s":"ASP79","t":31.04,"v":1},{"s":"ASP79","t":31.7,"v":0},{"s":"ASP79","t":31.74,"v":1},{"s":"ASP79","t":31.9,"v":0},{"s":"ASP79","t":31.94,"v":1},{"s":"ASP79","t":32.75,"v":0},{"s":"ASP79","t":32.79,"v":1},{"s":"ASP79","t":33.71,"v":2},{"s":"ASP79","t":33.75,"v":1},{"s":"ASP79","t":34.12,"v":2},{"s":"ASP79","t":34.16,"v":1},{"s":"ASP79","t":34.41,"v":2},{"s":"ASP79","t":34.45,"v":1},{"s":"ASP79","t":34.55,"v":0},{"s":"ASP79","t":34.59,"v":1},{"s":"ASP79","t":36.7,"v":0},{"s":"ASP79","t":36.74,"v":1},{"s":"ASP79","t":37.1,"v":0},{"s":"ASP79","t":37.14,"v":1},{"s":"ASP79","t":37.5,"v":0},{"s":"ASP79","t":37.54,"v":1},{"s":"ASP79","t":39.8,"v":0},{"s":"ASP79","t":39.84,"v":1},{"s":"ASP79","t":45.8,"v":0},{"s":"ASP79","t":46.3,"v":1},{"s":"ASP79","t":46.34,"v":0},{"s":"ASP79","t":47.2,"v":1},{"s":"ASP79","t":47.24,"v":0},{"s":"ASP79","t":48.15,"v":1},{"s":"ASP79","t":48.19,"v":0},{"s":"ASP79","t":49.35,"v":1},{"s":"ASP79","t":49.39,"v":0},{"s":"ASP79","t":49.5,"v":1},{"s":"ASP79","t":49.54,"v":0},{"s":"ASP79","t":49.65,"v":1},{"s":"ASP79","t":49.69,"v":0},{"s":"ASP79","t":49.8,"v":1},{"s":"ASP79","t":49.84,"v":0},{"s":"ASP79","t":50.0,"v":0}],
 "cBlk": [{"t":0,"t1":4.12,"v":1,"v2":2},{"t":2.1,"t1":2.55,"v":0,"v2":1},{"t":4.07,"t1":10.55,"v":0,"v2":1},{"t":10.65,"t1":14.55,"v":0,"v2":1},{"t":14.65,"t1":24,"v":0,"v2":1},{"t":10.1,"t1":11.3,"v":1,"v2":2},{"t":14.4,"t1":15.85,"v":1,"v2":2},{"t":15.95,"t1":18.2,"v":1,"v2":2},{"t":30.4,"t1":32.85,"v":0,"v2":1},{"t":32.95,"t1":36.85,"v":0,"v2":1}],
 "cLine": [
{"s":"SER169","t":0,"v":1},{"s":"SER169","t":0.05,"v":0},{"s":"SER169","t":0.09,"v":1},{"s":"SER169","t":0.35,"v":0},{"s":"SER169","t":0.39,"v":1},{"s":"SER169","t":0.75,"v":0},{"s":"SER169","t":0.79,"v":1},{"s":"SER169","t":1.1,"v":0},{"s":"SER169","t":1.14,"v":1},{"s":"SER169","t":3.45,"v":0},{"s":"SER169","t":3.49,"v":1},{"s":"SER169","t":3.7,"v":0},{"s":"SER169","t":3.74,"v":1},{"s":"SER169","t":4.5,"v":2},{"s":"SER169","t":4.54,"v":1},{"s":"SER169","t":4.7,"v":2},{"s":"SER169","t":4.74,"v":1},{"s":"SER169","t":4.9,"v":2},{"s":"SER169","t":4.94,"v":1},{"s":"SER169","t":7.1,"v":2},{"s":"SER169","t":7.14,"v":1},{"s":"SER169","t":7.3,"v":2},{"s":"SER169","t":7.34,"v":1},{"s":"SER169","t":8.75,"v":2},{"s":"SER169","t":8.79,"v":1},{"s":"SER169","t":12.05,"v":2},{"s":"SER169","t":12.09,"v":1},{"s":"SER169","t":12.3,"v":2},{"s":"SER169","t":12.34,"v":1},{"s":"SER169","t":12.42,"v":2},{"s":"SER169","t":12.46,"v":1},{"s":"SER169","t":18.8,"v":2},{"s":"SER169","t":18.84,"v":1},{"s":"SER169","t":19.4,"v":2},{"s":"SER169","t":19.44,"v":1},
{"s":"SER169","t":24.2,"v":0},{"s":"SER169","t":24.24,"v":1},{"s":"SER169","t":25.0,"v":0},{"s":"SER169","t":25.04,"v":1},{"s":"SER169","t":25.2,"v":0},{"s":"SER169","t":25.24,"v":1},{"s":"SER169","t":25.5,"v":0},{"s":"SER169","t":25.54,"v":1},{"s":"SER169","t":25.8,"v":0},{"s":"SER169","t":25.84,"v":1},{"s":"SER169","t":26.0,"v":0},{"s":"SER169","t":26.04,"v":1},{"s":"SER169","t":27.1,"v":0},{"s":"SER169","t":27.14,"v":1},{"s":"SER169","t":27.3,"v":0},{"s":"SER169","t":27.34,"v":1},{"s":"SER169","t":27.6,"v":0},{"s":"SER169","t":27.64,"v":1},{"s":"SER169","t":27.9,"v":0},{"s":"SER169","t":27.94,"v":1},{"s":"SER169","t":28.1,"v":0},{"s":"SER169","t":28.14,"v":1},{"s":"SER169","t":28.5,"v":0},{"s":"SER169","t":28.54,"v":1},{"s":"SER169","t":28.8,"v":0},{"s":"SER169","t":28.84,"v":1},{"s":"SER169","t":29.1,"v":0},{"s":"SER169","t":29.14,"v":1},{"s":"SER169","t":29.4,"v":0},{"s":"SER169","t":29.44,"v":1},{"s":"SER169","t":29.6,"v":0},{"s":"SER169","t":29.64,"v":1},{"s":"SER169","t":37.3,"v":0},{"s":"SER169","t":37.34,"v":1},{"s":"SER169","t":37.6,"v":0},{"s":"SER169","t":37.64,"v":1},{"s":"SER169","t":38.0,"v":0},{"s":"SER169","t":38.04,"v":1},{"s":"SER169","t":38.2,"v":0},{"s":"SER169","t":38.24,"v":1},{"s":"SER169","t":38.5,"v":0},{"s":"SER169","t":40.0,"v":1},{"s":"SER169","t":40.04,"v":0},{"s":"SER169","t":41.4,"v":1},{"s":"SER169","t":41.44,"v":0},{"s":"SER169","t":41.6,"v":1},{"s":"SER169","t":41.64,"v":0},{"s":"SER169","t":41.8,"v":1},{"s":"SER169","t":41.84,"v":0},{"s":"SER169","t":42.7,"v":1},{"s":"SER169","t":42.74,"v":0},{"s":"SER169","t":46.6,"v":1},{"s":"SER169","t":46.64,"v":0},{"s":"SER169","t":49.4,"v":1},{"s":"SER169","t":49.44,"v":0},{"s":"SER169","t":49.55,"v":1},{"s":"SER169","t":49.59,"v":0},{"s":"SER169","t":50.0,"v":0}]
},
"spacing": 45,
"resolve": {"scale": {"x": "independent", "y": "independent", "color": "independent"}, "legend": {"color": "independent"}},
"vconcat": [
 {
  "spacing": 35,
  "resolve": {"scale": {"x": "independent", "y": "independent", "color": "independent"}, "legend": {"color": "independent"}},
  "vconcat": [
   {
    "width": 542, "height": 352,
    "title": {"text": "A", "anchor": "start", "frame": "group", "orient": "top", "baseline": "top", "offset": 0, "dx": -89, "dy": 71, "fontSize": 66, "font": "Liberation Sans, Arial, sans-serif", "fontWeight": "bold", "color": "#000"},
    "encoding": {
     "x": {"field": "t", "type": "quantitative", "scale": {"domain": [-2.53, 52.53], "nice": false, "zero": false}, "axis": {"values": [0, 10, 20, 30, 40, 50], "title": "Time (ns)"}},
     "y": {"field": "v", "type": "quantitative", "scale": {"domain": [-0.5, 10.5], "nice": false, "zero": false}, "axis": {"values": [0, 2, 4, 6, 8, 10], "title": "H-bonds (number)"}}
    },
    "layer": [
     {"data": {"name": "aBlkB"}, "mark": {"type": "rect", "color": "#1f77b4"}, "encoding": {"x2": {"field": "t1"}, "y2": {"field": "v2"}}},
     {"data": {"name": "aLineB"}, "mark": {"type": "line", "interpolate": "step-after", "strokeWidth": 1.5},
      "encoding": {"color": {"field": "s", "type": "nominal", "scale": {"domain": ["3ZKBL-PQd", "3ZKBL-PQPNN"], "range": ["#ff7f0e", "#1f77b4"]},
        "legend": {"orient": "top-right", "direction": "horizontal", "title": null, "offset": 9, "padding": 0, "labelFont": "Liberation Sans, Arial, sans-serif", "labelFontSize": 17, "labelColor": "#222", "symbolType": "stroke", "symbolSize": 400, "symbolStrokeWidth": 3, "labelOffset": 6, "columnPadding": 14}}}},
     {"data": {"name": "aBlkO"}, "mark": {"type": "rect", "color": "#ff7f0e"}, "encoding": {"x2": {"field": "t1"}, "y2": {"field": "v2"}}},
     {"data": {"name": "aLineO"}, "mark": {"type": "line", "interpolate": "step-after", "strokeWidth": 1.5},
      "encoding": {"color": {"field": "s", "type": "nominal", "scale": {"domain": ["3ZKBL-PQd", "3ZKBL-PQPNN"], "range": ["#ff7f0e", "#1f77b4"]},
        "legend": {"orient": "top-right", "direction": "horizontal", "title": null, "offset": 9, "padding": 0, "labelFont": "Liberation Sans, Arial, sans-serif", "labelFontSize": 17, "labelColor": "#222", "symbolType": "stroke", "symbolSize": 400, "symbolStrokeWidth": 3, "labelOffset": 6, "columnPadding": 14}}}}
    ]
   },
   {
    "width": 542, "height": 352,
    "title": {"text": "B", "anchor": "start", "frame": "group", "orient": "top", "baseline": "top", "offset": 0, "dx": -96, "dy": 61, "fontSize": 64, "font": "Liberation Sans, Arial, sans-serif", "fontWeight": "bold", "color": "#000"},
    "encoding": {
     "x": {"field": "t", "type": "quantitative", "scale": {"domain": [-2.53, 52.53], "nice": false, "zero": false}, "axis": {"values": [0, 10, 20, 30, 40, 50], "title": "Time (ns)"}},
     "y": {"field": "v", "type": "quantitative", "scale": {"domain": [-0.1, 2.1], "nice": false, "zero": false}, "axis": {"values": [0, 0.25, 0.5, 0.75, 1, 1.25, 1.5, 1.75, 2], "format": ".2f", "title": "H-bonds (number)"}}
    },
    "layer": [
     {"data": {"name": "bBlk"}, "mark": {"type": "rect", "color": "#1f77b4"}, "encoding": {"x2": {"field": "t1"}, "y2": {"field": "v2"}}},
     {"data": {"name": "bLine"}, "mark": {"type": "line", "interpolate": "step-after", "strokeWidth": 1.5},
      "encoding": {"color": {"field": "s", "type": "nominal", "scale": {"domain": ["ASP79"], "range": ["#1f77b4"]},
        "legend": {"orient": "top-right", "title": null, "offset": 11, "padding": 0, "labelFont": "Liberation Sans, Arial, sans-serif", "labelFontSize": 14, "labelFontWeight": "bold", "labelColor": "#111", "symbolType": "stroke", "symbolSize": 380, "symbolStrokeWidth": 3, "labelOffset": 6}}}}
    ]
   }
  ]
 },
 {
  "width": 542, "height": 352,
  "title": {"text": "C", "anchor": "start", "frame": "group", "orient": "top", "baseline": "top", "offset": 0, "dx": -96, "dy": 68, "fontSize": 66, "font": "Liberation Sans, Arial, sans-serif", "fontWeight": "bold", "color": "#000"},
  "encoding": {
   "x": {"field": "t", "type": "quantitative", "scale": {"domain": [-2.53, 52.53], "nice": false, "zero": false}, "axis": {"values": [0, 10, 20, 30, 40, 50], "title": "Time (ns)"}},
   "y": {"field": "v", "type": "quantitative", "scale": {"domain": [-0.1, 2.1], "nice": false, "zero": false}, "axis": {"values": [0, 0.25, 0.5, 0.75, 1, 1.25, 1.5, 1.75, 2], "format": ".2f", "title": "H-bonds (number)"}}
  },
  "layer": [
   {"data": {"name": "cBlk"}, "mark": {"type": "rect", "color": "#1f77b4"}, "encoding": {"x2": {"field": "t1"}, "y2": {"field": "v2"}}},
   {"data": {"name": "cLine"}, "mark": {"type": "line", "interpolate": "step-after", "strokeWidth": 1.5},
    "encoding": {"color": {"field": "s", "type": "nominal", "scale": {"domain": ["SER169"], "range": ["#1f77b4"]},
      "legend": {"orient": "top-right", "title": null, "offset": 10, "padding": 0, "labelFont": "Liberation Sans, Arial, sans-serif", "labelFontSize": 14, "labelFontWeight": "bold", "labelColor": "#111", "symbolType": "stroke", "symbolSize": 380, "symbolStrokeWidth": 3, "labelOffset": 6}}}}
  ]
 }
]
}
